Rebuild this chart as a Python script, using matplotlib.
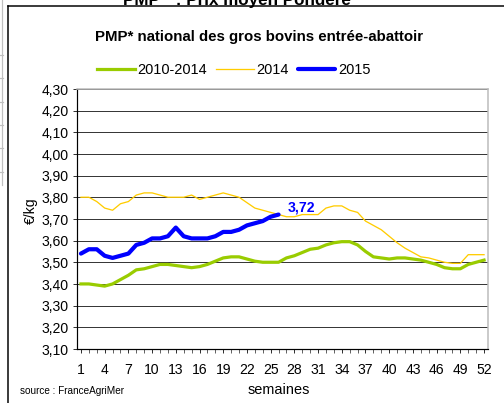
import matplotlib.pyplot as plt
from matplotlib.lines import Line2D

plt.rcParams['font.family'] = ['Liberation Sans', 'DejaVu Sans']

weeks = list(range(1, 53))
moy_2010_2014 = [3.40, 3.40, 3.395, 3.39, 3.40, 3.42, 3.44, 3.465, 3.47, 3.48,
                 3.49, 3.49, 3.485, 3.48, 3.475, 3.48, 3.49, 3.505, 3.52, 3.525,
                 3.525, 3.515, 3.505, 3.50, 3.50, 3.50, 3.52, 3.53, 3.545, 3.56,
                 3.565, 3.58, 3.59, 3.595, 3.595, 3.58, 3.55, 3.525, 3.52, 3.515,
                 3.52, 3.52, 3.515, 3.51, 3.50, 3.49, 3.475, 3.47, 3.47, 3.49,
                 3.50, 3.51]
p2014 = [3.80, 3.80, 3.78, 3.75, 3.74, 3.77, 3.78, 3.81, 3.82, 3.82,
         3.81, 3.80, 3.80, 3.80, 3.81, 3.79, 3.80, 3.81, 3.82, 3.81,
         3.80, 3.775, 3.75, 3.74, 3.73, 3.72, 3.71, 3.71, 3.72, 3.72,
         3.72, 3.75, 3.76, 3.76, 3.74, 3.73, 3.69, 3.67, 3.65, 3.62,
         3.59, 3.565, 3.545, 3.525, 3.52, 3.51, 3.50, 3.495, 3.495, 3.535,
         3.535, 3.535]
weeks_2015 = list(range(1, 27))
p2015 = [3.54, 3.56, 3.56, 3.53, 3.52, 3.53, 3.54, 3.58, 3.59, 3.61,
         3.61, 3.62, 3.66, 3.62, 3.61, 3.61, 3.61, 3.62, 3.64, 3.64,
         3.65, 3.67, 3.68, 3.69, 3.71, 3.72]
last_label = "3,72"

W, H = 504, 403
fig = plt.figure(figsize=(7.0, 5.6), dpi=72)

def px_line(x0, y0, x1, y1, color, lw):
    fig.add_artist(Line2D([x0 / W, x1 / W], [1 - y0 / H, 1 - y1 / H], color=color,
                          linewidth=lw, transform=fig.transFigure))

# frame of the chart and bits of the page around it
px_line(8, 6, 504, 6, 'black', 1.5)
px_line(8, 6, 8, 403, 'black', 1.5)
px_line(2, 0, 2, 185, '#c0c0c0', 1.2)
for y in [55, 78, 102, 125, 148, 172]:
    px_line(0, y, 3, y, '#c0c0c0', 1.2)

# page title, cut by the top edge as in the source
fig.text(237 / W, 1.0, "PMP * : Prix moyen Pondéré", ha='center', va='center',
         fontsize=17, fontweight='bold')

ax = fig.add_axes([77 / W, 1 - 349 / H, 411 / W, 260 / H])
ax.plot(weeks, moy_2010_2014, color='#99CC00', linewidth=3.2, label='2010-2014')
ax.plot(weeks, p2014, color='#FFCC00', linewidth=1.3, label='2014')
ax.plot(weeks_2015, p2015, color='#0000FF', linewidth=4.2, label='2015',
        solid_capstyle='round')
ax.text(weeks_2015[-1] + 1.1, p2015[-1] + 0.003, last_label, color='#0000FF',
        fontsize=14, fontweight='bold', ha='left', va='bottom')

ax.set_xlim(0.5, 52.5)
ax.set_ylim(3.10, 4.30)
yt = [3.10 + 0.1 * i for i in range(13)]
ax.set_yticks(yt)
ax.set_yticklabels([f"{v:.2f}".replace('.', ',') for v in yt], fontsize=14)
ax.set_xticks(weeks, minor=True)
ax.set_xticks(weeks[::3])
ax.set_xticklabels([str(w) for w in weeks[::3]], fontsize=14)
ax.tick_params(axis='x', which='both', direction='out', length=4, pad=10)
ax.tick_params(axis='y', direction='out', length=4, pad=4)
ax.grid(axis='y', color='#222222', linewidth=0.9)
ax.set_axisbelow(True)
for s in ['top', 'right']:
    ax.spines[s].set_color('#bbbbbb')
    ax.spines[s].set_linewidth(1.5)
ax.spines['left'].set_linewidth(1.2)
ax.spines['bottom'].set_linewidth(1.2)

fig.text(31 / W, 1 - 211 / H, "€/kg", ha='center', va='center', fontsize=14, rotation=90)
fig.text(279 / W, 1 - 390 / H, "semaines", ha='center', va='center', fontsize=14.5)
fig.text(20 / W, 1 - 391 / H, "source : FranceAgriMer", ha='left', va='center', fontsize=10)
fig.text(259 / W, 1 - 37 / H, "PMP* national des gros bovins entrée-abattoir",
         ha='center', va='center', fontsize=15, fontweight='bold')
fig.legend(loc='center', bbox_to_anchor=(234 / W, 1 - 70 / H), ncol=3, frameon=False,
           fontsize=14.5, handlelength=2.6, columnspacing=0.6, handletextpad=0.2)

fig.savefig("out.png", dpi=72)
